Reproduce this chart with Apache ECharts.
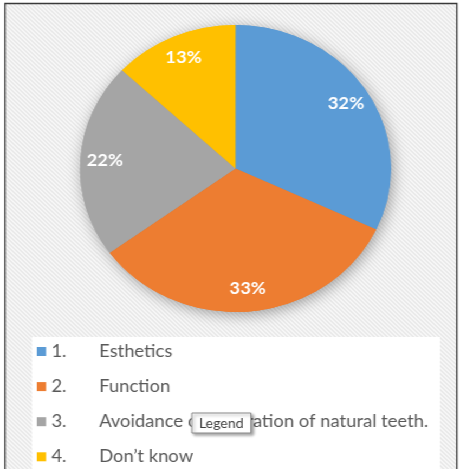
<!DOCTYPE html>
<html>
<head>
<meta charset="utf-8">
<script src="https://cdn.jsdelivr.net/npm/echarts@6/dist/echarts.min.js"></script>
<style>
  html, body { margin: 0; padding: 0; background: #ffffff; overflow: hidden; }
  #wrap { width: 459px; height: 469px; overflow: hidden; }
  #c { width: 423.6px; height: 469px; transform: scaleX(1.0836); transform-origin: 0 0; }
</style>
</head>
<body>
<div id="wrap"><div id="c"></div></div>
<script>
// ---- data ----
const itemNumbers = ["1.", "2.", "3.", "4."];
const categories = ["Esthetics", "Function", "Avoidance of separation of natural teeth.", "Don\u2019t know"];
const percentValues = [32, 33, 22, 13];
const sliceColors = ["#5B9BD5", "#ED7D31", "#A5A5A5", "#FFC000"];

// diagonal hatch pattern for the plot background
const hatch = document.createElement('canvas');
hatch.width = 4; hatch.height = 4;
(function () {
  const g = hatch.getContext('2d');
  g.fillStyle = '#f7f7f7';
  g.fillRect(0, 0, 4, 4);
  g.fillStyle = '#e9e9e9';
  for (let i = 0; i < 4; i++) { g.fillRect(i, i, 1, 1); g.fillRect((i + 1) % 4, i, 1, 1); }
})();

const chart = echarts.init(document.getElementById('c'), null, { renderer: 'canvas' });

const center = [217.3, 168.5];
const R = 143.5;

chart.setOption({
  backgroundColor: '#ffffff',
  animation: false,
  graphic: [
    { type: 'rect', z: -10, shape: { x: 4.6, y: 3.5, width: 417, height: 480 },
      style: { fill: { image: hatch, repeat: 'repeat' }, stroke: '#3a3a3a', lineWidth: 1.3 } },
    { type: 'rect', z: -9, shape: { x: 29.5, y: 337, width: 376.5, height: 140 },
      style: { fill: '#ffffff' } },
    { type: 'rect', z: 100, zlevel: 1, shape: { x: 177, y: 413, width: 54.5, height: 20 },
      style: { fill: '#ffffff', stroke: '#8a8a8a', lineWidth: 1,
               shadowBlur: 3, shadowOffsetX: 2, shadowOffsetY: 2, shadowColor: 'rgba(0,0,0,0.35)' } },
    { type: 'text', z: 101, zlevel: 1, x: 204.2, y: 424,
      style: { text: 'Legend', fill: '#404040', font: '13px Lato', align: 'center', verticalAlign: 'middle' } }
  ],
  legend: {
    orient: 'vertical',
    left: 34,
    top: 343,
    padding: 0,
    icon: 'rect',
    itemWidth: 8.5,
    itemHeight: 9,
    itemGap: 18.1,
    selectedMode: false,
    data: categories,
    formatter: function (name) {
      const i = categories.indexOf(name);
      return '{n|' + itemNumbers[i] + '}{t|' + name + '}';
    },
    textStyle: {
      rich: {
        n: { width: 44, fontSize: 17, fontFamily: 'Lato', color: '#595959', lineHeight: 16 },
        t: { fontSize: 17, fontFamily: 'Lato', color: '#595959', lineHeight: 16 }
      }
    }
  },
  series: [
    {
      type: 'pie', silent: true, z: 1,
      center: center, radius: [0, R], startAngle: 90, clockwise: true,
      label: { show: false }, labelLine: { show: false },
      itemStyle: { shadowBlur: 14, shadowOffsetX: 2, shadowOffsetY: 3, shadowColor: 'rgba(0,0,0,0.35)' },
      data: categories.map((name, i) => ({ name: name, value: percentValues[i], itemStyle: { color: sliceColors[i] } }))
    },
    {
      type: 'pie', silent: true, z: 2,
      center: center, radius: [0, R], startAngle: 90, clockwise: true,
      label: { show: false }, labelLine: { show: false },
      itemStyle: { borderWidth: 0 },
      data: categories.map((name, i) => ({ name: name, value: percentValues[i], itemStyle: { color: sliceColors[i] } }))
    },
    {
      type: 'pie', silent: true, z: 3,
      center: center, radius: [92, R], startAngle: 90, clockwise: true,
      itemStyle: { color: 'rgba(0,0,0,0)', borderWidth: 0 },
      labelLine: { show: false },
      label: {
        show: true, position: 'inside',
        formatter: '{c}%',
        color: '#ffffff', fontFamily: 'Lato', fontWeight: 'bold', fontSize: 17
      },
      data: categories.map((name, i) => ({ name: name, value: percentValues[i] }))
    }
  ]
});
</script>
</body>
</html>
